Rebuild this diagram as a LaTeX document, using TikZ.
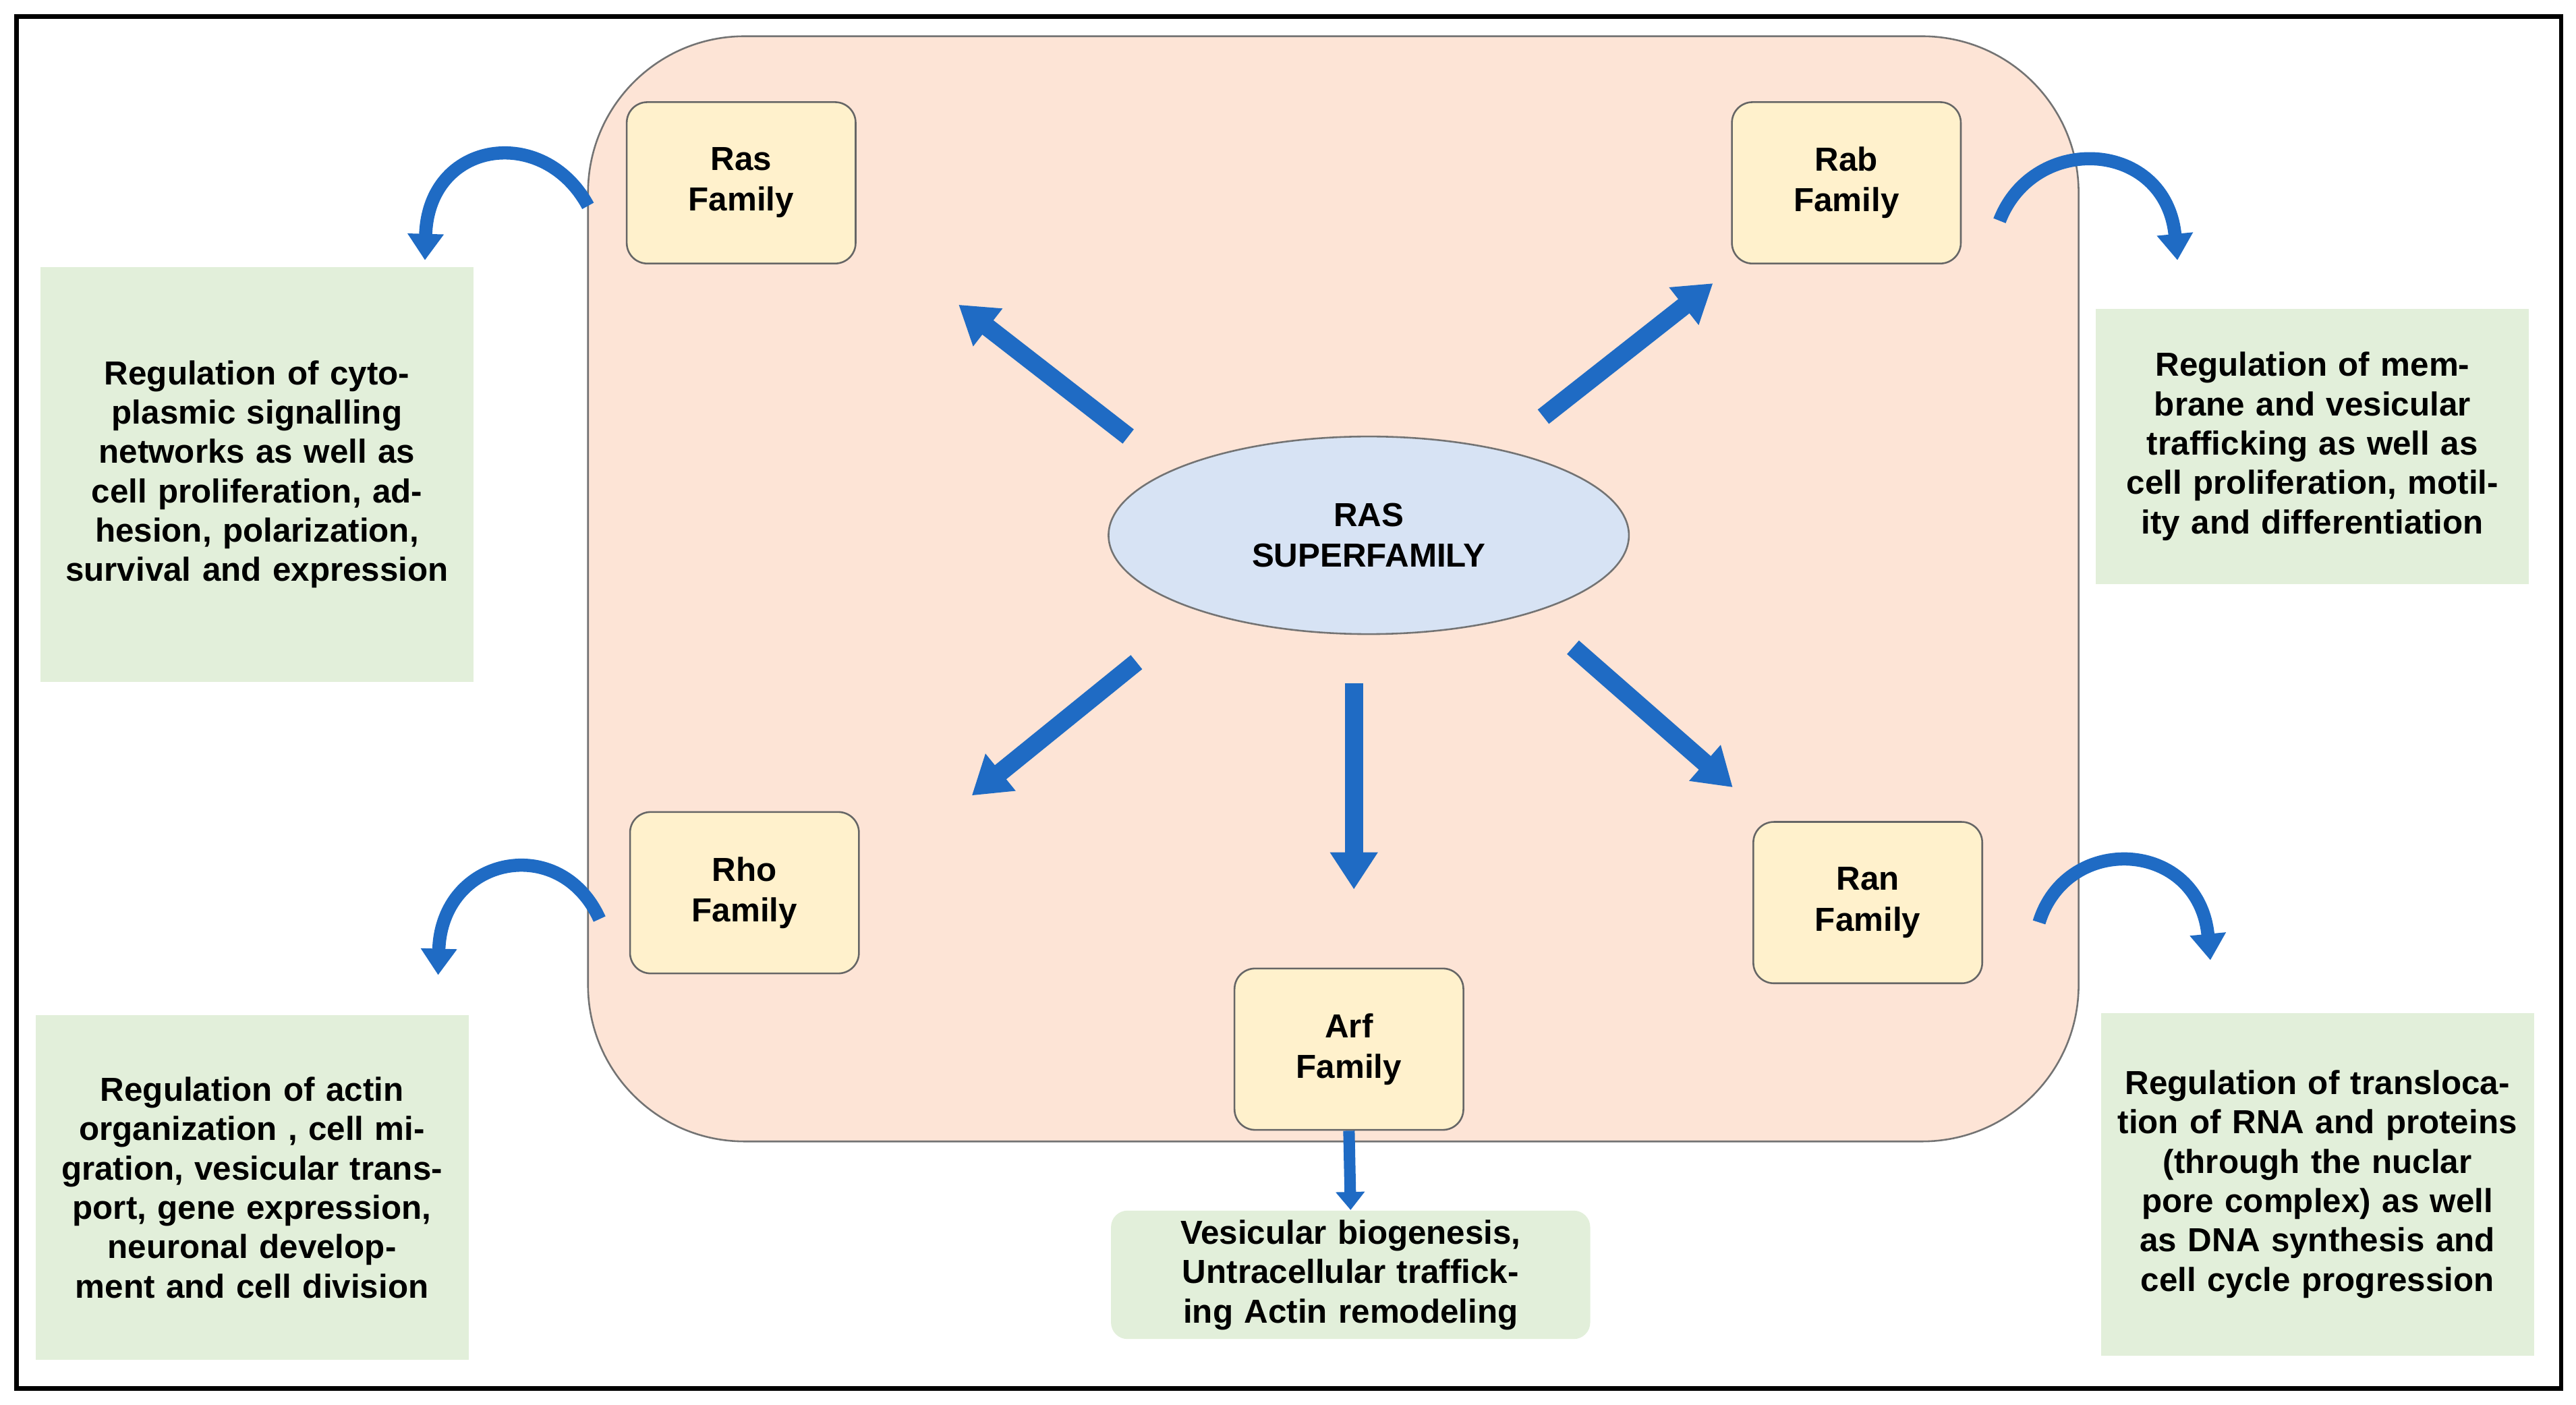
\documentclass[tikz,border=0pt]{standalone}
\usepackage{fontspec}
\setmainfont{Liberation Sans}
\usetikzlibrary{shapes.geometric,arrows.meta}
\definecolor{peach}{HTML}{FDE4D6}
\definecolor{cream}{HTML}{FFF1CC}
\definecolor{lblue}{HTML}{D7E3F4}
\definecolor{lgreen}{HTML}{E2EFDA}
\definecolor{arrowblue}{HTML}{1F6BC4}
\begin{document}
\begin{tikzpicture}[x=0.02cm,y=-0.02cm,
  fam/.style={draw=black!60,line width=0.6pt,fill=cream,rounded corners=0.25cm,minimum width=2.78cm,minimum height=1.96cm,align=center,font=\fontsize{11.5}{14}\selectfont\bfseries},
  green/.style={fill=lgreen,align=center,inner sep=0pt,font=\fontsize{11.5}{13.6}\selectfont\bfseries},
  big/.style={line width=0.22cm,draw=arrowblue,-{Triangle[length=0.45cm,width=0.55cm]}},
  curv/.style={line width=0.16cm,draw=arrowblue,-{Triangle[length=0.32cm,width=0.42cm]}}]
\useasboundingbox (0,0) rectangle (1564,852.7);
\draw[line width=1.5pt] (10,10) rectangle (1555,843);
\draw[draw=black!55,line width=0.6pt,fill=peach,rounded corners=1.9cm] (357,22) rectangle (1262,693);
\node[fam] (ras) at (450,111) {Ras\\Family};
\node[fam] (rab) at (1121,111) {Rab\\Family};
\node[fam] (rho) at (452,542) {Rho\\Family};
\node[fam] (ran) at (1134,548) {Ran\\Family};
\node[fam] (arf) at (819,637) {Arf\\Family};
\node[ellipse,draw=black!55,line width=0.6pt,fill=lblue,minimum width=6.32cm,minimum height=2.4cm,align=center,font=\fontsize{11.5}{14}\selectfont\bfseries] (sf) at (831,325) {RAS\\SUPERFAMILY};
\node[green,minimum width=5.26cm,minimum height=5.04cm,text width=4.9cm] (g1) at (156,288) {Regulation of cytoplasmic signalling networks as well as cell proliferation, adhesion, polarization, survival and expression};
\node[green,minimum width=5.26cm,minimum height=3.34cm,text width=5.1cm] (g2) at (1404,271) {Regulation of membrane and vesicular trafficking as well as cell proliferation, motility and differentiation};
\node[green,minimum width=5.26cm,minimum height=4.18cm,text width=5.1cm] (g3) at (153,721) {Regulation of actin organization , cell migration, vesicular transport, gene expression, neuronal development and cell division};
\node[green,minimum width=5.26cm,minimum height=4.16cm,text width=5.1cm] (g4) at (1407,719) {Regulation of translocation of RNA and proteins (through the nuclar pore complex) as well as DNA synthesis and cell cycle progression};
\node[green,rounded corners=0.2cm,minimum width=5.82cm,minimum height=1.56cm,text width=5.6cm] (g5) at (820,774) {Vesicular biogenesis, Untracellular trafficking Actin remodeling};
\coordinate (a1s) at (685,265); \coordinate (a1e) at (582,185);
\coordinate (a2s) at (937,253); \coordinate (a2e) at (1040,172);
\coordinate (a3s) at (690,402); \coordinate (a3e) at (590,483);
\coordinate (a4s) at (822,415); \coordinate (a4e) at (822,540);
\coordinate (a5s) at (955,393); \coordinate (a5e) at (1052,478);
\draw[big] (a1s) -- (a1e);
\draw[big] (a2s) -- (a2e);
\draw[big] (a3s) -- (a3e);
\draw[big] (a4s) -- (a4e);
\draw[big] (a5s) -- (a5e);
\draw[line width=0.14cm,draw=arrowblue,-{Triangle[length=0.22cm,width=0.34cm]}] (arf.south) -- (g5.north);
\draw[curv] (357,125) .. controls (330,75) and (260,85) .. (258,158);
\draw[curv] (1214,134) .. controls (1235,80) and (1315,85) .. (1322,158);
\draw[curv] (364,558) .. controls (340,505) and (268,520) .. (266,592);
\draw[curv] (1238,560) .. controls (1255,505) and (1335,510) .. (1342,583);
\end{tikzpicture}
\end{document}
